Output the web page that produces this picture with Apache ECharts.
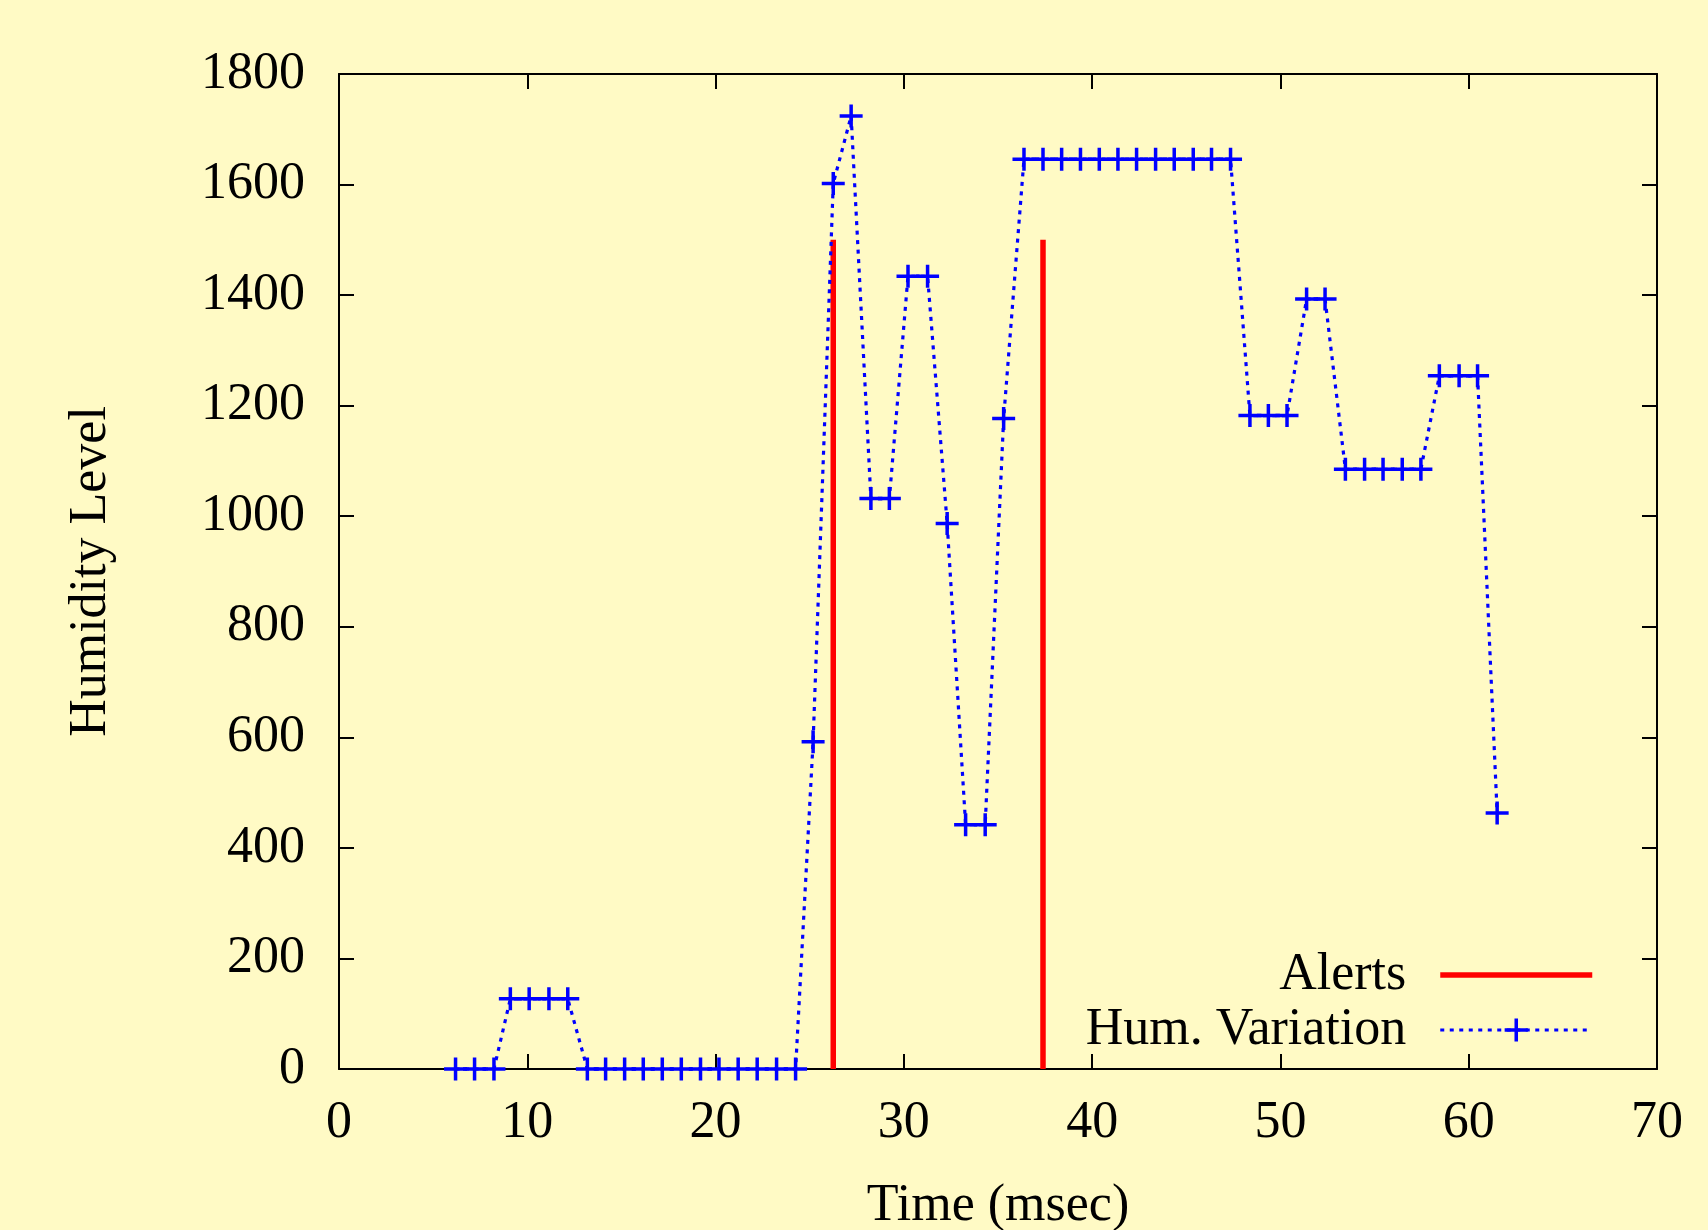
<!DOCTYPE html>
<html>
<head>
<meta charset="utf-8">
<script src="https://cdn.jsdelivr.net/npm/echarts@6/dist/echarts.min.js"></script>
<style>
html,body{margin:0;padding:0;background:#fffac5;}
#chart{width:1708px;height:1230px;}
</style>
</head>
<body>
<div id="chart"></div>
<script>
// ---- data ----
var humTimes = [6.19, 7.2, 8.23, 9.1, 10.1, 11.15, 12.15, 13.19, 14.16, 15.17, 16.16, 17.17, 18.18, 19.2, 20.18, 21.2, 22.21, 23.24, 24.25,
  25.18, 26.25, 27.2, 28.25, 29.23, 30.22, 31.26, 32.3, 33.28, 34.32, 35.3,
  36.38, 37.39, 38.38, 39.38, 40.38, 41.37, 42.36, 43.37, 44.36, 45.37, 46.34, 47.35,
  48.38, 49.36, 50.35, 51.39, 52.37, 53.45, 54.47, 55.45, 56.47, 57.46, 58.44, 59.49, 60.47, 61.51];
var humLevels = [0, 0, 0, 127, 127, 127, 127, 0, 0, 0, 0, 0, 0, 0, 0, 0, 0, 0, 0,
  592, 1602, 1724, 1032, 1032, 1434, 1434, 987, 442, 442, 1177,
  1646, 1646, 1646, 1646, 1646, 1646, 1646, 1646, 1646, 1646, 1646, 1646,
  1182, 1182, 1182, 1393, 1393, 1085, 1085, 1085, 1085, 1085, 1254, 1254, 1254, 463];
var alertTimes = [26.25, 37.39];
var alertLevels = [1500, 1500];
var xTicks = [0, 10, 20, 30, 40, 50, 60, 70];
var yTicks = [0, 200, 400, 600, 800, 1000, 1200, 1400, 1600, 1800];

var FONT = 'Liberation Serif';
var plusPath = 'path://M0,9.75H23V13.25H0Z M9.75,0H13.25V23H9.75Z';
var RED = '#ff0000', BLUE = '#0000ff';
var humLine = { color: BLUE, width: 3.2, type: [4, 5.5] };
var alertLine = { color: RED, width: 5.5 };

var humData = humTimes.map(function (t, i) { return [t, humLevels[i]]; });

var series = alertTimes.map(function (t, i) {
  return {
    name: 'Alerts',
    type: 'line',
    data: [[t, 0], [t, alertLevels[i]]],
    symbol: 'circle',
    showSymbol: false,
    lineStyle: alertLine,
    itemStyle: { color: RED },
    clip: false,
    silent: true,
    z: 2
  };
});
series.push({
  name: 'Hum. Variation',
  type: 'line',
  data: humData,
  symbol: plusPath,
  symbolSize: 23,
  showSymbol: true,
  lineStyle: humLine,
  itemStyle: { color: BLUE },
  clip: false,
  silent: true,
  z: 3
});

function axisCommon(extra) {
  var base = {
    type: 'value',
    splitLine: { show: false },
    axisLine: { show: true, onZero: false, lineStyle: { color: '#000', width: 2 } },
    axisTick: { show: true, inside: true, length: 15, lineStyle: { color: '#000', width: 2 } },
    axisLabel: { show: false }
  };
  for (var k in extra) base[k] = extra[k];
  return base;
}

var chart = echarts.init(document.getElementById('chart'));
chart.setOption({
  backgroundColor: '#fffac5',
  animation: false,
  grid: { left: 339, right: 51, top: 74, bottom: 161, containLabel: false, outerBoundsMode: 'none' },
  legend: {
    orient: 'vertical',
    align: 'right',
    right: 108,
    top: 944,
    itemWidth: 152,
    itemHeight: 29,
    itemGap: 3,
    selectedMode: false,
    textStyle: { fontFamily: FONT, fontSize: 52, color: '#000', padding: [0, 29, 0, 0] },
    data: [
      { name: 'Alerts', itemStyle: { color: 'rgba(0,0,0,0)', borderWidth: 0 }, lineStyle: alertLine },
      { name: 'Hum. Variation', itemStyle: { color: BLUE }, lineStyle: humLine }
    ]
  },
  xAxis: [
    axisCommon({
      position: 'bottom',
      min: xTicks[0], max: xTicks[xTicks.length - 1], interval: xTicks[1] - xTicks[0],
      name: 'Time (msec)',
      nameLocation: 'middle',
      nameGap: 111,
      nameTextStyle: { fontFamily: FONT, fontSize: 52, color: '#000' },
      axisLabel: { show: true, margin: 28, fontFamily: FONT, fontSize: 52, color: '#000',
        formatter: function (v) { return String(v); } }
    }),
    axisCommon({
      position: 'top',
      min: xTicks[0], max: xTicks[xTicks.length - 1], interval: xTicks[1] - xTicks[0]
    })
  ],
  yAxis: [
    axisCommon({
      position: 'left',
      min: yTicks[0], max: yTicks[yTicks.length - 1], interval: yTicks[1] - yTicks[0],
      name: 'Humidity Level',
      nameLocation: 'middle',
      nameGap: 222,
      nameTextStyle: { fontFamily: FONT, fontSize: 52, color: '#000' },
      axisLabel: { show: true, margin: 34, fontFamily: FONT, fontSize: 52, color: '#000',
        formatter: function (v) { return String(v); } }
    }),
    axisCommon({
      position: 'right',
      min: yTicks[0], max: yTicks[yTicks.length - 1], interval: yTicks[1] - yTicks[0]
    })
  ],
  series: series
});
</script>
</body>
</html>
